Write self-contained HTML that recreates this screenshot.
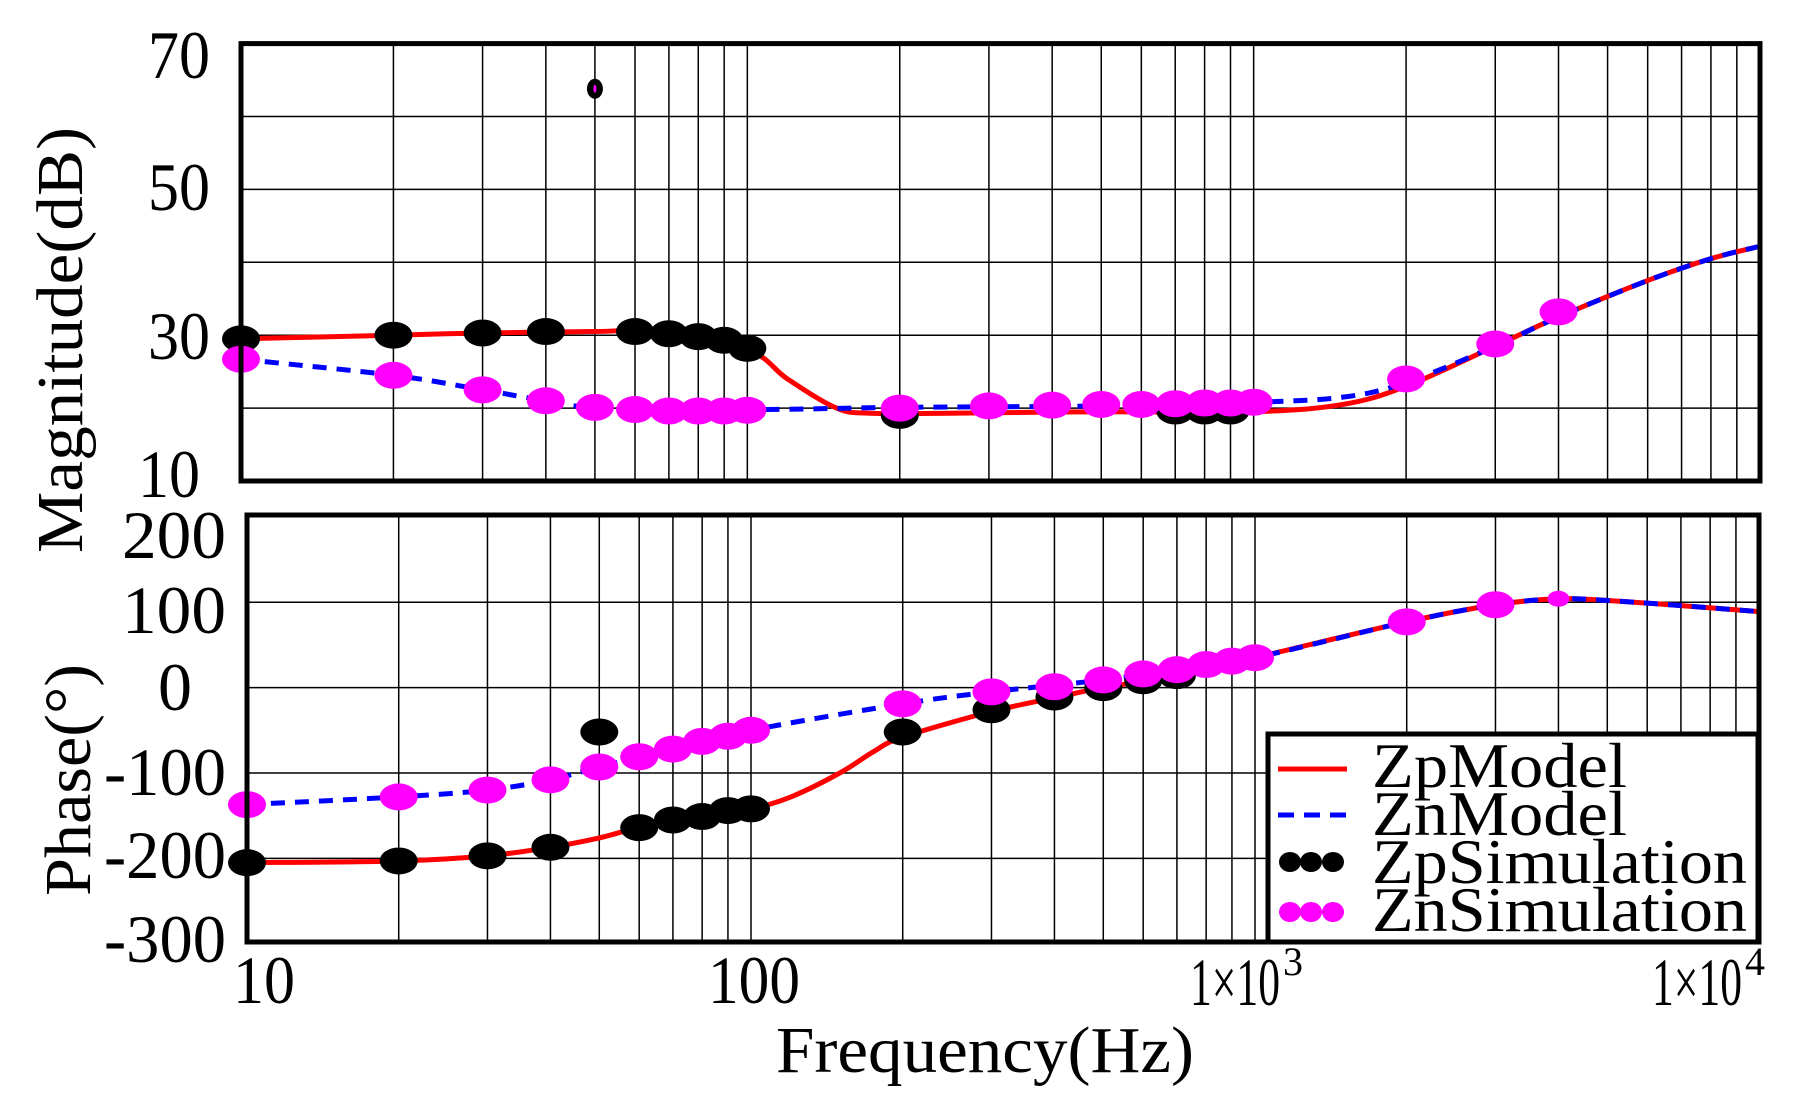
<!DOCTYPE html>
<html><head><meta charset="utf-8"><style>
html,body{margin:0;padding:0;background:#fff;}
svg{display:block;}
text{font-family:"Liberation Serif",serif;fill:#000;}
</style></head><body>
<svg id="s" width="1804" height="1104" viewBox="0 0 1804 1104" xmlns="http://www.w3.org/2000/svg">
<g id="g"></g>
<g font-size="68" text-anchor="end" lengthAdjust="spacingAndGlyphs">
<text x="210" y="78" textLength="62" lengthAdjust="spacingAndGlyphs">70</text>
<text x="210" y="210" textLength="62" lengthAdjust="spacingAndGlyphs">50</text>
<text x="210" y="359" textLength="62" lengthAdjust="spacingAndGlyphs">30</text>
<text x="200" y="497" textLength="62" lengthAdjust="spacingAndGlyphs">10</text>
<text x="226" y="558" textLength="104" lengthAdjust="spacingAndGlyphs">200</text>
<text x="226" y="633" textLength="104" lengthAdjust="spacingAndGlyphs">100</text>
<text x="192" y="710" textLength="34" lengthAdjust="spacingAndGlyphs">0</text>
<text x="226" y="795" textLength="122" lengthAdjust="spacingAndGlyphs">-100</text>
<text x="226" y="878" textLength="122" lengthAdjust="spacingAndGlyphs">-200</text>
<text x="226" y="962" textLength="122" lengthAdjust="spacingAndGlyphs">-300</text>
</g>
<text x="264" y="1003" font-size="68" text-anchor="middle" textLength="62" lengthAdjust="spacingAndGlyphs">10</text>
<text x="754" y="1003" font-size="68" text-anchor="middle" textLength="92" lengthAdjust="spacingAndGlyphs">100</text>
<text x="1190" y="1005" font-size="68" textLength="90" lengthAdjust="spacingAndGlyphs">1×10</text><text x="1283" y="975" font-size="40">3</text>
<text x="1652" y="1005" font-size="68" textLength="90" lengthAdjust="spacingAndGlyphs">1×10</text><text x="1745" y="975" font-size="40">4</text>
<text x="985" y="1072" font-size="66" text-anchor="middle" textLength="418" lengthAdjust="spacingAndGlyphs">Frequency(Hz)</text>
<text transform="translate(82,340) rotate(-90)" font-size="66" text-anchor="middle" textLength="426" lengthAdjust="spacingAndGlyphs">Magnitude(dB)</text>
<text transform="translate(90,780) rotate(-90)" font-size="66" text-anchor="middle" textLength="232" lengthAdjust="spacingAndGlyphs">Phase(°)</text>
</svg>
<script>
const NS="http://www.w3.org/2000/svg",G=document.getElementById('g');
function el(t,a){const e=document.createElementNS(NS,t);for(const k in a)e.setAttribute(k,a[k]);G.appendChild(e);return e;}
const L1=241,R1=1760,T1=43.6,B1=481,L2=247,R2=1759,T2=515,B2=942;
const xt=f=>L1+(R1-L1)/3*Math.log10(f/10), yt=d=>T1+(70-d)*(B1-T1)/60;
const xb=f=>L2+(R2-L2)/3*Math.log10(f/10), yb=p=>687.6-p*0.854;
for(const [L,R,T,B,xf] of [[L1,R1,T1,B1,xt],[L2,R2,T2,B2,xb]]){
 for(let d=10;d<10000;d*=10)for(let m=1;m<10;m++){const x=xf(d*m);if(x>L+2&&x<R-2)el('line',{x1:x,x2:x,y1:T,y2:B,stroke:'#000','stroke-width':1.5});}
}
for(const v of [20,30,40,50,60]){el('line',{x1:L1,x2:R1,y1:yt(v),y2:yt(v),stroke:'#000','stroke-width':1.5});}
for(const v of [100,0,-100,-200]){el('line',{x1:L2,x2:R2,y1:yb(v),y2:yb(v),stroke:'#000','stroke-width':1.5});}
function path(pts){let d='M'+pts[0][0]+','+pts[0][1];for(let i=0;i<pts.length-1;i++){const p0=pts[Math.max(0,i-1)],p1=pts[i],p2=pts[i+1],p3=pts[Math.min(pts.length-1,i+2)];
d+=' C'+(p1[0]+(p2[0]-p0[0])/6)+','+(p1[1]+(p2[1]-p0[1])/6)+' '+(p2[0]-(p3[0]-p1[0])/6)+','+(p2[1]-(p3[1]-p1[1])/6)+' '+p2[0]+','+p2[1];}return d;}
function curve(data,xf,yf,col,dash){const pts=data.map(a=>[xf(a[0]),yf(a[1])]);const o={d:path(pts),fill:'none',stroke:col,'stroke-width':5};if(dash)o['stroke-dasharray']='14 10';el('path',o);}
function dots(data,xf,yf,col){for(const a of data)el('ellipse',{cx:xf(a[0]),cy:yf(a[1]),rx:19,ry:13.5,fill:col});}
const zpM=[[10,29.5],[20,30],[30,30.3],[50,30.5],[65,30.5],[100,28],[120,24],[150,20],[175,19.3],[250,19.3],[500,19.5],[1000,19.5],[1500,20.5],[2000,23],[3000,28.5],[4000,32.5],[6000,37.5],[8000,40.5],[10000,42.2]];
const znM=[[10,26.7],[20,24.5],[30,22.5],[40,21],[50,20.1],[100,19.8],[200,20.1],[500,20.3],[1000,20.8],[1500,21.5],[2000,23.5],[3000,28.5],[4000,32.5],[6000,37.5],[8000,40.5],[10000,42.2]];
curve(zpM,xt,yt,'#ff0000');curve(znM,xt,yt,'#0000ff',1);
dots([[10,29.5],[20,30],[30,30.3],[40,30.5],[60,30.5],[70,30.2],[80,29.8],[90,29.3],[100,28.2],[200,19],[700,19.6],[800,19.6],[900,19.6]],xt,yt,'#000');
el('ellipse',{cx:xt(50),cy:yt(63.8),rx:8,ry:10,fill:'#000'});el('ellipse',{cx:xt(50),cy:yt(63.8),rx:1.5,ry:4,fill:'#ff00ff'});
dots([[10,26.7],[20,24.5],[30,22.5],[40,21],[50,20.1],[60,19.8],[70,19.6],[80,19.6],[90,19.6],[100,19.7],[200,20],[300,20.3],[400,20.4],[500,20.5],[600,20.5],[700,20.6],[800,20.7],[900,20.7],[1000,20.8],[2000,24],[3000,28.8],[4000,33.2]],xt,yt,'#ff00ff');
const zpP=[[10,-205],[20,-203],[30,-197],[40,-187],[50,-176],[60,-164],[80,-151],[100,-142],[120,-128],[150,-100],[175,-75],[200,-58],[300,-28],[400,-12],[500,0],[700,14],[1000,35],[2000,77],[3000,97],[4000,104],[5000,102],[7000,96],[10000,89]];
const znP=[[10,-137],[20,-128],[30,-120],[40,-108],[50,-93],[70,-72],[100,-50],[200,-19],[300,-5],[500,9],[700,21],[1000,35],[2000,77],[3000,97],[4000,104],[5000,102],[7000,96],[10000,89]];
curve(zpP,xb,yb,'#ff0000');curve(znP,xb,yb,'#0000ff',1);
dots([[10,-205],[20,-203],[30,-197],[40,-187],[50,-52],[60,-164],[70,-155],[80,-151],[90,-144],[100,-142],[200,-52],[300,-26],[400,-11],[500,0],[600,8],[700,14]],xb,yb,'#000');
dots([[10,-137],[20,-128],[30,-120],[40,-108],[50,-93],[60,-81],[70,-72],[80,-63],[90,-57],[100,-50],[200,-19],[300,-5],[400,1],[500,9],[600,16],[700,21],[800,27],[900,31],[1000,35],[2000,77],[3000,97]],xb,yb,'#ff00ff');
el('ellipse',{cx:xb(4000),cy:yb(104),rx:11,ry:8,fill:'#ff00ff'});
el('rect',{x:L1,y:T1,width:R1-L1,height:B1-T1,fill:'none',stroke:'#000','stroke-width':5});
el('rect',{x:L2,y:T2,width:R2-L2,height:B2-T2,fill:'none',stroke:'#000','stroke-width':5});
el('rect',{x:1268,y:734,width:490,height:208,fill:'#fff',stroke:'#000','stroke-width':5});
el('line',{x1:1278,x2:1347,y1:769,y2:769,stroke:'#ff0000','stroke-width':5});
el('line',{x1:1278,x2:1347,y1:815,y2:815,stroke:'#0000ff','stroke-width':5,'stroke-dasharray':'16 10'});
for(const [cy,c] of [[862,'#000'],[912,'#ff00ff']])for(const cx of [1290,1311,1333])el('ellipse',{cx,cy,rx:11,ry:10,fill:c});
const names=[['ZpModel',787],['ZnModel',835],['ZpSimulation',883],['ZnSimulation',931]];
for(const [t,y] of names){const e=el('text',{x:1372,y:y,'font-size':64,textLength:t.length>8?375:255,lengthAdjust:'spacingAndGlyphs'});e.textContent=t;}
</script>
</body></html>
